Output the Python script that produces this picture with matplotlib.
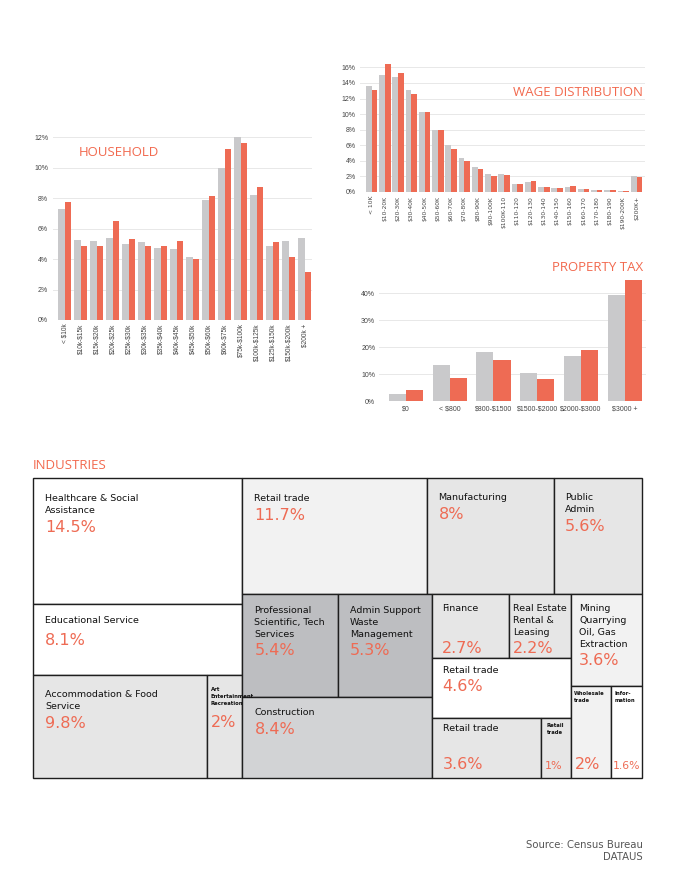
import matplotlib
matplotlib.use("Agg")
import matplotlib.pyplot as plt
import numpy as np
from matplotlib.patches import Rectangle

plt.rcParams["text.parse_math"] = False

# ---------------- data ----------------
hh_labels = ["< $10k", "$10k-$15k", "$15k-$20k", "$20k-$25k", "$25k-$30k", "$30k-$35k",
             "$35k-$40k", "$40k-$45k", "$45k-$50k", "$50k-$60k", "$60k-$75k", "$75k-$100k",
             "$100k-$125k", "$125k-$150k", "$150k-$200k", "$200k +"]
hh_gray = [7.29, 5.25, 5.18, 5.36, 4.99, 5.10, 4.70, 4.66, 4.11, 7.86, 9.99, 12.03,
           8.21, 4.88, 5.16, 5.36]
hh_orange = [7.73, 4.88, 4.83, 6.46, 5.29, 4.83, 4.83, 5.16, 3.98, 8.12, 11.24, 11.61,
             8.74, 5.10, 4.13, 3.18]
hh_yticks = [0, 2, 4, 6, 8, 10, 12]

wage_labels = ["< 10K", "$10-20K", "$20-30K", "$30-40K", "$40-50K", "$50-60K", "$60-70K",
               "$70-80K", "$80-90K", "$90-100K", "$100K-110", "$110-120", "$120-130",
               "$130-140", "$140-150", "$150-160", "$160-170", "$170-180", "$180-190",
               "$190-200K", "$200K+"]
wage_gray = [13.6, 15.02, 14.76, 13.05, 10.22, 7.96, 6.03, 4.32, 3.21, 2.27, 2.27, 1.03,
             1.28, 0.68, 0.51, 0.68, 0.38, 0.26, 0.26, 0.13, 2.01]
wage_orange = [13.09, 16.43, 15.27, 12.53, 10.22, 7.96, 5.56, 3.98, 2.95, 2.10, 2.18, 1.03,
               1.41, 0.68, 0.51, 0.73, 0.34, 0.26, 0.30, 0.13, 1.97]
wage_yticks = [0, 2, 4, 6, 8, 10, 12, 14, 16]

tax_labels = ["$0", "< $800", "$800-$1500", "$1500-$2000", "$2000-$3000", "$3000 +"]
tax_gray = [2.6, 13.25, 18.2, 10.4, 16.72, 39.26]
tax_orange = [4.09, 8.54, 15.23, 8.17, 18.82, 45.08]
tax_yticks = [0, 10, 20, 30, 40]

ind_names = ["Healthcare & Social\nAssistance", "Educational Service",
             "Accommodation & Food\nService", "Art\nEntertainment\nRecreation",
             "Retail trade", "Manufacturing", "Public\nAdmin",
             "Professional\nScientific, Tech\nServices", "Admin Support\nWaste\nManagement",
             "Construction", "Finance", "Real Estate\nRental &\nLeasing", "Retail trade",
             "Retail trade", "Retail\ntrade", "Mining\nQuarrying\nOil, Gas\nExtraction",
             "Wholesale\ntrade", "Infor-\nmation"]
ind_shares = [14.5, 8.1, 9.8, 2, 11.7, 8, 5.6, 5.4, 5.3, 8.4, 2.7, 2.2, 4.6, 3.6, 1, 3.6, 2, 1.6]
ind_value_text = ["14.5%", "8.1%", "9.8%", "2%", "11.7%", "8%", "5.6%", "5.4%", "5.3%",
                  "8.4%", "2.7%", "2.2%", "4.6%", "3.6%", "1%", "3.6%", "2%", "1.6%"]
# nesting of the treemap: 'h' = side by side, 'v' = stacked
ind_tree = ('h', [('v', [0, 1, ('h', [2, 3])]),
                  ('v', [('h', [4, 5, 6]),
                         ('h', [('v', [('h', [7, 8]), 9]),
                                ('v', [('h', [10, 11]), 12, ('h', [13, 14])]),
                                ('v', [15, ('h', [16, 17])])])])])

# ---------------- style ----------------
W, H = 680, 881
GRAY = "#c9c9cb"
ORANGE = "#ee6b54"
TITLE = "#f2694e"
TICK = "#444444"
GRID = "#e8e8e8"

fig = plt.figure(figsize=(6.8, 8.81), dpi=100)
fig.patch.set_facecolor("white")


def px_axes(l, t, r, b):
    return fig.add_axes([l / W, 1 - b / H, (r - l) / W, (b - t) / H])


def bar_chart(ax, labels, g, o, w, xlim, ylim, yticks, xfont, xrot, xfam, xpad, ypad):
    x = np.arange(len(labels))
    ax.bar(x - w, g, w, align="edge", color=GRAY, zorder=2, linewidth=0)
    ax.bar(x, o, w, align="edge", color=ORANGE, zorder=2, linewidth=0)
    ax.set_xlim(*xlim)
    ax.set_ylim(*ylim)
    ax.set_yticks(yticks)
    ax.set_yticklabels([f"{t}%" for t in yticks], fontsize=5, family="Liberation Sans",
                       color=TICK)
    ax.set_xticks(x)
    ax.set_xticklabels(labels, rotation=xrot, fontsize=xfont, family=xfam, color=TICK)
    ax.yaxis.grid(True, color=GRID, lw=0.7, zorder=0)
    ax.set_axisbelow(True)
    for s in ax.spines.values():
        s.set_visible(False)
    ax.tick_params(axis="x", length=0, pad=xpad)
    ax.tick_params(axis="y", length=0, pad=ypad)
    ax.set_facecolor("none")


ax1 = px_axes(53, 135.5, 312, 320)
bar_chart(ax1, hh_labels, hh_gray, hh_orange, 0.4, (-0.73, 15.46), (0, 12.1), hh_yticks,
          4.7, 90, "Liberation Sans", 2.4, 3.5)

ax2 = px_axes(360, 63.5, 645, 192)
bar_chart(ax2, wage_labels, wage_gray, wage_orange, 0.43, (-0.88, 20.64), (0, 16.5),
          wage_yticks, 4.3, 90, "DejaVu Sans", 2.8, 3.0)

ax3 = px_axes(379, 278.5, 646, 401)
bar_chart(ax3, tax_labels, tax_gray, tax_orange, 0.39, (-0.62, 5.49), (0, 45.5),
          tax_yticks, 5, 0, "Liberation Sans", 2.9, 2.7)

tfont = dict(family="Open Sans", fontsize=9.5, color=TITLE)
fig.text(79 / W, 1 - 153 / H, "HOUSEHOLD", ha="left", va="center", **tfont)
fig.text(643 / W, 1 - 92 / H, "WAGE DISTRIBUTION", ha="right", va="center", **tfont)
fig.text(643 / W, 1 - 267.3 / H, "PROPERTY TAX", ha="right", va="center", **tfont)
fig.text(33 / W, 1 - 465.5 / H, "INDUSTRIES", ha="left", va="center", **tfont)

# ---------------- treemap ----------------
tm = fig.add_axes([0, 0, 1, 1])
tm.set_xlim(0, W)
tm.set_ylim(H, 0)
tm.axis("off")


def total(node):
    if isinstance(node, int):
        return ind_shares[node]
    return sum(total(k) for k in node[1])


def layout(node, x0, y0, x1, y1, out):
    if isinstance(node, int):
        out[node] = (x0, y0, x1, y1)
        return
    orient, kids = node
    tot = total(node)
    pos = x0 if orient == "h" else y0
    for k in kids:
        frac = total(k) / tot
        if orient == "h":
            nx = pos + frac * (x1 - x0)
            layout(k, pos, y0, nx, y1, out)
            pos = nx
        else:
            ny = pos + frac * (y1 - y0)
            layout(k, x0, pos, x1, ny, out)
            pos = ny


cells = {}
layout(ind_tree, 33, 478, 642.5, 778, cells)

cell_colors = ["white", "white", "#e6e6e6", "#e6e6e6", "#f2f2f2", "#e6e6e6", "#e6e6e6",
               "#bdbec1", "#bdbec1", "#d2d3d5", "#e6e6e6", "#e6e6e6", "white", "#e6e6e6",
               "#e6e6e6", "#f2f2f2", "#f2f2f2", "white"]

default = dict(ldx=12, ldy=16, lfs=6.8, lw="normal", lh=12, lcap=7,
               mode="flow", vdx=None, vfs=11.5, vcap=11.7, vpad=0)
overrides = {
    1: dict(ldy=12, vpad=3),
    2: dict(ldy=15),
    3: dict(ldx=4, ldy=12.7, lfs=3.8, lw="bold", lh=6.7, lcap=3.5, mode="abs", vdx=4, vtop=40),
    5: dict(ldx=11, ldy=15),
    6: dict(ldx=11, ldy=15),
    7: dict(ldy=12),
    8: dict(ldy=12),
    9: dict(ldy=11),
    10: dict(ldx=10.7, ldy=10, mode="bottom", vpad=4.6),
    11: dict(ldx=4.7, ldy=10, mode="bottom", vpad=4.6),
    12: dict(ldx=11, ldy=8),
    13: dict(ldx=11, ldy=6, mode="bottom", vpad=8.6),
    14: dict(ldx=6, ldy=6, lfs=3.8, lw="bold", lh=6.5, lcap=3.5, mode="bottom", vpad=9,
             vfs=8, vcap=8, vdx=4),
    15: dict(ldx=8, ldy=10),
    16: dict(ldx=3, ldy=6, lfs=3.8, lw="bold", lh=6.5, lcap=3.5, mode="bottom", vpad=9.3,
             vdx=4),
    17: dict(ldx=4, ldy=6, lfs=3.8, lw="bold", lh=6.5, lcap=3.5, mode="bottom", vpad=9,
             vfs=7.8, vcap=8, vdx=1.5),
}

for i, name in enumerate(ind_names):
    x0, y0, x1, y1 = cells[i]
    tm.add_patch(Rectangle((x0, y0), x1 - x0, y1 - y0, facecolor=cell_colors[i],
                           edgecolor="#1e1e1e", lw=1.0, zorder=1))
    st = dict(default)
    st.update(overrides.get(i, {}))
    lines = name.split("\n")
    lx = x0 + st["ldx"]
    ltop = y0 + st["ldy"]
    for j, ln in enumerate(lines):
        tm.text(lx, ltop + st["lcap"] + st["lh"] * j, ln, fontsize=st["lfs"],
                fontweight=st["lw"], family="DejaVu Sans", color="#111111",
                ha="left", va="baseline", zorder=3)
    vx = x0 + (st["vdx"] if st["vdx"] is not None else st["ldx"])
    if st["mode"] == "flow":
        vbase = ltop + st["lh"] * len(lines) + 2 + st["vpad"] + st["vcap"]
    elif st["mode"] == "bottom":
        vbase = y1 - st["vpad"]
    else:
        vbase = y0 + st["vtop"] + st["vcap"]
    tm.text(vx, vbase, ind_value_text[i], fontsize=st["vfs"], family="DejaVu Sans",
            color=ORANGE, ha="left", va="baseline", zorder=3)

fig.text(643 / W, 1 - 845 / H, "Source: Census Bureau", ha="right", va="center",
         fontsize=7.3, family="DejaVu Sans", color="#555555")
fig.text(643 / W, 1 - 857 / H, "DATAUS", ha="right", va="center",
         fontsize=7.3, family="DejaVu Sans", color="#555555")

fig.savefig("out.png", dpi=100, facecolor="white")
